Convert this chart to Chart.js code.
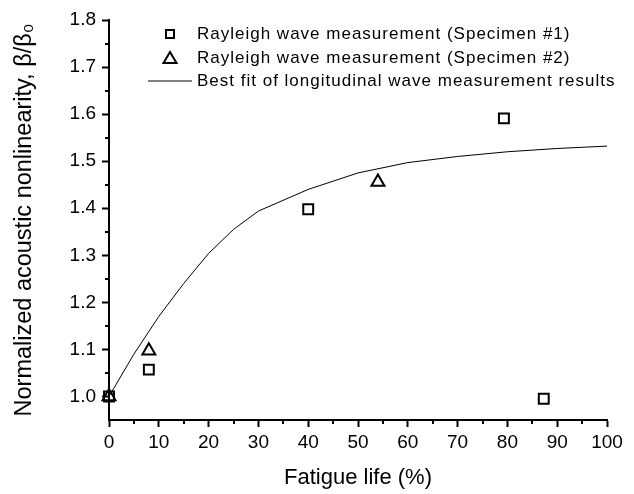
<!DOCTYPE html>
<html>
<head>
<meta charset="utf-8">
<script src="https://cdn.jsdelivr.net/npm/chart.js@4.4.1/dist/chart.umd.min.js"></script>
<style>
  html, body { margin: 0; padding: 0; background: #fff; }
  #wrap { width: 634px; height: 494px; }
</style>
</head>
<body>
<div id="wrap"><canvas id="fatigueChart"></canvas></div>
<script>
// data
const specimen1X = [0, 8, 40, 79.3, 87.3];
const specimen1Y = [1.0, 1.057, 1.398, 1.591, 0.995];
const specimen2X = [0, 8, 54];
const specimen2Y = [1.0, 1.097, 1.456];
const fitX = [0, 5, 10, 15, 20, 25, 30, 40, 50, 60, 70, 80, 90, 100];
const fitY = [1.0, 1.09, 1.17, 1.24, 1.304, 1.355, 1.394, 1.44, 1.475, 1.497, 1.51, 1.52, 1.527, 1.532];
const xTicks = [0, 10, 20, 30, 40, 50, 60, 70, 80, 90, 100];
const yTicks = [1.0, 1.1, 1.2, 1.3, 1.4, 1.5, 1.6, 1.7, 1.8];
const xMinorTicks = [5, 15, 25, 35, 45, 55, 65, 75, 85, 95];
const yMinorTicks = [1.05, 1.15, 1.25, 1.35, 1.45, 1.55, 1.65, 1.75];
const legendLabels = [
    'Rayleigh wave measurement (Specimen #1)',
    'Rayleigh wave measurement (Specimen #2)',
    'Best fit of longitudinal wave measurement results'
];

const FONT = "'Liberation Sans', Arial, Helvetica, sans-serif";

function toPoints(xs, ys) {
    return xs.map((x, i) => ({ x: x, y: ys[i] }));
}

// small outward minor ticks on both axes
const minorTicks = {
    id: 'minorTicks',
    afterDraw(chart) {
        const { ctx, scales: { x, y } } = chart;
        ctx.save();
        ctx.strokeStyle = '#000';
        ctx.lineWidth = 2;
        ctx.beginPath();
        xMinorTicks.forEach(v => {
            const px = Math.round(x.getPixelForValue(v));
            ctx.moveTo(px, x.top);
            ctx.lineTo(px, x.top + 4);
        });
        yMinorTicks.forEach(v => {
            const py = Math.round(y.getPixelForValue(v));
            ctx.moveTo(y.right, py);
            ctx.lineTo(y.right - 4, py);
        });
        ctx.stroke();
        ctx.restore();
    }
};

// legend sits inside the plot, top left
const insideLegend = {
    id: 'insideLegend',
    afterDraw(chart) {
        const { ctx, chartArea } = chart;
        const symX = chartArea.left + 61;
        const textX = chartArea.left + 88;
        const rows = [chartArea.top + 14, chartArea.top + 38, chartArea.top + 61];
        ctx.save();
        ctx.strokeStyle = '#000';
        ctx.lineWidth = 2;
        // square
        ctx.strokeRect(symX - 4, rows[0] - 4, 8, 8);
        // triangle
        ctx.beginPath();
        ctx.moveTo(symX, rows[1] - 6);
        ctx.lineTo(symX + 6.5, rows[1] + 5);
        ctx.lineTo(symX - 6.5, rows[1] + 5);
        ctx.closePath();
        ctx.stroke();
        // line
        ctx.lineWidth = 1;
        ctx.beginPath();
        ctx.moveTo(symX - 22, rows[2]);
        ctx.lineTo(symX + 22, rows[2]);
        ctx.stroke();

        ctx.fillStyle = '#000';
        ctx.font = '17px ' + FONT;
        ctx.letterSpacing = '1px';
        ctx.textBaseline = 'middle';
        ctx.textAlign = 'left';
        legendLabels.forEach((t, i) => ctx.fillText(t, textX, rows[i]));
        ctx.restore();
    }
};

const ctx = document.getElementById('fatigueChart').getContext('2d');
new Chart(ctx, {
    type: 'scatter',
    data: {
        datasets: [
            {
                label: legendLabels[2],
                data: toPoints(fitX, fitY),
                showLine: true,
                borderColor: '#000',
                borderWidth: 1,
                pointRadius: 0,
                tension: 0,
                clip: false,
                order: 3
            },
            {
                label: legendLabels[0],
                data: toPoints(specimen1X, specimen1Y),
                pointStyle: 'rect',
                pointRadius: 7,
                borderColor: '#000',
                backgroundColor: 'rgba(0,0,0,0)',
                pointBorderWidth: 2,
                clip: false,
                order: 1
            },
            {
                label: legendLabels[1],
                data: toPoints(specimen2X, specimen2Y),
                pointStyle: 'triangle',
                pointRadius: 7.5,
                borderColor: '#000',
                backgroundColor: 'rgba(0,0,0,0)',
                pointBorderWidth: 2,
                clip: false,
                order: 2
            }
        ]
    },
    options: {
        responsive: true,
        maintainAspectRatio: false,
        animation: false,
        layout: { padding: { top: 20, right: 27, left: 0, bottom: 0 } },
        plugins: {
            legend: { display: false },
            tooltip: { enabled: false }
        },
        scales: {
            x: {
                type: 'linear',
                min: 0,
                max: 100,
                afterBuildTicks: s => { s.ticks = xTicks.map(v => ({ value: v })); },
                afterFit: s => { s.height = 74; },
                grid: { drawOnChartArea: false, tickLength: 7, tickWidth: 2, tickColor: '#000' },
                border: { color: '#000', width: 2 },
                ticks: { color: '#000', font: { family: FONT, size: 19 }, padding: 4, maxRotation: 0 },
                title: {
                    display: true,
                    text: 'Fatigue life (%)',
                    color: '#000',
                    font: { family: FONT, size: 22 },
                    padding: { top: 0, bottom: 3 }
                }
            },
            y: {
                type: 'linear',
                min: 0.95,
                max: 1.8,
                afterBuildTicks: s => { s.ticks = yTicks.map(v => ({ value: v })); },
                afterFit: s => { s.width = 109; },
                grid: { drawOnChartArea: false, tickLength: 7, tickWidth: 2, tickColor: '#000' },
                border: { color: '#000', width: 2 },
                ticks: {
                    color: '#000',
                    font: { family: FONT, size: 19 },
                    padding: 6,
                    callback: v => Number(v).toFixed(1)
                },
                title: {
                    display: true,
                    text: 'Normalized acoustic nonlinearity, β/β₀',
                    color: '#000',
                    font: { family: FONT, size: 23.5 },
                    padding: { top: 10, bottom: 0 }
                }
            }
        }
    },
    plugins: [minorTicks, insideLegend]
});
</script>
</body>
</html>
